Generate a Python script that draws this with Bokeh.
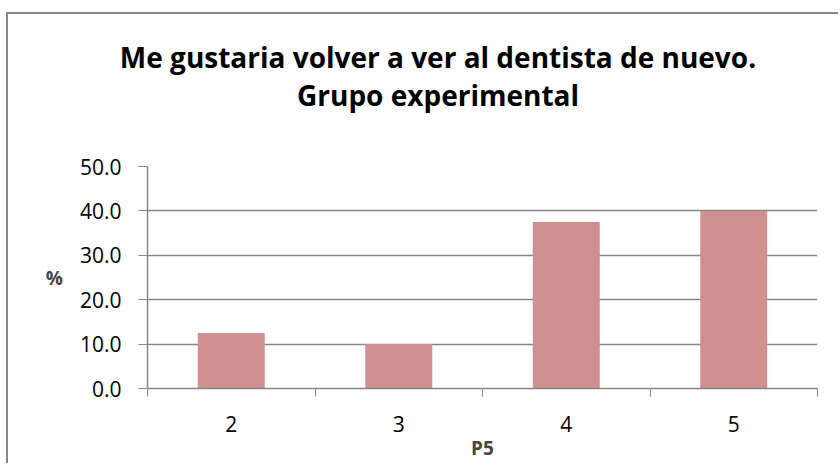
from bokeh.plotting import figure
from bokeh.models import FixedTicker, Range1d, Div, NumeralTickFormatter
from bokeh.layouts import column
from bokeh.embed import file_html
from bokeh.resources import INLINE

categories = ["2", "3", "4", "5"]
values = [12.5, 10.0, 37.5, 40.0]
title_lines = ["Me gustaria volver a ver al dentista de nuevo.", "Grupo experimental"]
x_label = "P5"
y_label = "%"
y_ticks = [0, 10, 20, 30, 40, 50]

FONT = "Open Sans"
GRAY = "#868686"
BORDER = "2px solid #888888"

xs = list(range(1, len(categories) + 1))

title_html = (
    '<div style="box-sizing:border-box;width:832px;padding-left:28px;padding-top:24px;'
    'text-align:center;font-family:\'Open Sans\';font-weight:bold;font-size:28px;'
    'line-height:38px;color:black;white-space:nowrap;">'
    + "<br>".join(title_lines) + "</div>"
)
title_div = Div(text=title_html, width=832, height=110, margin=0,
                styles={"border-left": BORDER, "border-top": BORDER})

p = figure(width=832, height=341, output_backend="svg", toolbar_location=None, title=None,
           x_range=Range1d(0.5, len(categories) + 0.5), y_range=Range1d(0, 50),
           min_border_left=139, min_border_right=23, min_border_top=44, min_border_bottom=71,
           margin=0)
p.styles = {"border-left": BORDER}
p.outline_line_color = None
p.background_fill_color = "white"
p.border_fill_color = "white"

p.vbar(x=xs, top=values, width=0.4, fill_color="#D09090", line_color=None)

# x axis
p.xaxis.ticker = FixedTicker(ticks=xs, minor_ticks=[x - 0.5 for x in xs] + [xs[-1] + 0.5])
p.xaxis.major_label_overrides = {x: c for x, c in zip(xs, categories)}
p.xaxis.major_tick_out = 0
p.xaxis.major_tick_in = 0
p.xaxis.minor_tick_out = 8
p.xaxis.minor_tick_in = 0
p.xaxis.minor_tick_line_color = GRAY
p.xaxis.axis_line_color = GRAY
p.xaxis.axis_line_width = 1.5
p.xaxis.major_label_standoff = 19
p.xaxis.major_label_text_font = FONT
p.xaxis.major_label_text_font_size = "21px"
p.xaxis.major_label_text_color = "black"
p.xaxis.axis_label = x_label
p.xaxis.axis_label_text_font = FONT
p.xaxis.axis_label_text_font_style = "bold"
p.xaxis.axis_label_text_font_size = "19px"
p.xaxis.axis_label_standoff = 0
p.xgrid.grid_line_color = None

# y axis
p.yaxis.ticker = FixedTicker(ticks=y_ticks, minor_ticks=[])
p.yaxis.formatter = NumeralTickFormatter(format="0.0")
p.yaxis.major_tick_out = 9
p.yaxis.major_tick_in = 0
p.yaxis.major_tick_line_color = GRAY
p.yaxis.axis_line_color = GRAY
p.yaxis.axis_line_width = 1.5
p.yaxis.major_label_standoff = 17
p.yaxis.major_label_text_font = FONT
p.yaxis.major_label_text_font_size = "21px"
p.yaxis.major_label_text_color = "black"
p.yaxis.axis_label = y_label
p.yaxis.axis_label_orientation = "horizontal"
p.yaxis.axis_label_text_font = FONT
p.yaxis.axis_label_text_font_style = "bold"
p.yaxis.axis_label_text_font_size = "19px"
p.yaxis.axis_label_standoff = 14
p.ygrid.grid_line_color = GRAY
p.ygrid.grid_line_width = 1.5

layout = column(title_div, p, spacing=0,
                styles={"margin-left": "6px", "margin-top": "12px"})

open("out.html", "w").write(file_html(layout, INLINE))
